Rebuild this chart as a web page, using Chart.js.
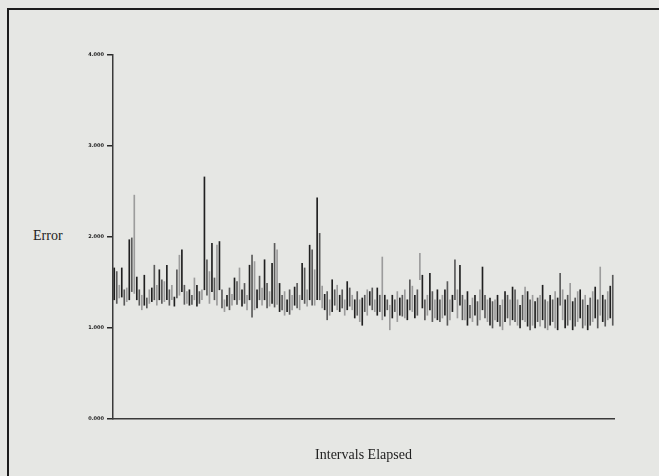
<!DOCTYPE html>
<html>
<head>
<meta charset="utf-8">
<script src="https://cdn.jsdelivr.net/npm/chart.js@4.4.1/dist/chart.umd.min.js"></script>
<style>
  body { margin: 0; background: #e6e7e4; overflow: hidden; }
  #frame { position: absolute; left: 7px; top: 8px; width: 700px; height: 520px;
           border-left: 2px solid #1c1c1c; border-top: 2px solid #1c1c1c; }
  #ylab { position: absolute; left: 33px; top: 228px; font: 14px "Liberation Serif", serif; color: #222; }
  canvas { position: absolute; left: 0; top: 0; }
</style>
</head>
<body>
<div id="frame"></div>
<div id="ylab">Error</div>
<canvas id="errChart" width="659" height="476"></canvas>
<script>
const highs = [
    1.66, 1.62, 1.47, 1.66, 1.42, 1.44, 1.97, 1.99, 2.46, 1.56,
    1.42, 1.36, 1.58, 1.33, 1.42, 1.44, 1.69, 1.47, 1.64, 1.53,
    1.51, 1.69, 1.42, 1.47, 1.34, 1.64, 1.80, 1.86, 1.47, 1.40,
    1.42, 1.36, 1.55, 1.47, 1.40, 1.42, 2.66, 1.75, 1.62, 1.93,
    1.55, 1.91, 1.95, 1.42, 1.31, 1.36, 1.44, 1.37, 1.55, 1.51,
    1.66, 1.42, 1.49, 1.36, 1.69, 1.80, 1.73, 1.42, 1.57, 1.44,
    1.75, 1.49, 1.40, 1.71, 1.93, 1.86, 1.49, 1.36, 1.40, 1.31,
    1.42, 1.36, 1.45, 1.49, 1.36, 1.71, 1.66, 1.42, 1.91, 1.86,
    1.64, 2.43, 2.04, 1.46, 1.37, 1.40, 1.31, 1.53, 1.42, 1.47,
    1.36, 1.42, 1.31, 1.51, 1.44, 1.36, 1.31, 1.40, 1.31, 1.33,
    1.36, 1.42, 1.40, 1.44, 1.31, 1.44, 1.36, 1.78, 1.36, 1.31,
    1.25, 1.36, 1.31, 1.40, 1.33, 1.36, 1.42, 1.31, 1.53, 1.46,
    1.36, 1.42, 1.82, 1.58, 1.31, 1.36, 1.60, 1.40, 1.31, 1.42,
    1.31, 1.36, 1.42, 1.51, 1.31, 1.36, 1.75, 1.42, 1.69, 1.36,
    1.31, 1.40, 1.25, 1.33, 1.36, 1.29, 1.42, 1.67, 1.36, 1.31,
    1.33, 1.29, 1.31, 1.36, 1.25, 1.31, 1.40, 1.36, 1.31, 1.45,
    1.42, 1.31, 1.25, 1.36, 1.45, 1.40, 1.31, 1.36, 1.29, 1.33,
    1.36, 1.47, 1.31, 1.29, 1.36, 1.31, 1.40, 1.33, 1.60, 1.42,
    1.31, 1.36, 1.49, 1.29, 1.33, 1.40, 1.42, 1.31, 1.36, 1.25,
    1.33, 1.40, 1.45, 1.31, 1.67, 1.36, 1.31, 1.40, 1.46, 1.58
];
const lows = [
    1.31, 1.27, 1.33, 1.34, 1.25, 1.29, 1.31, 1.40, 1.38, 1.31,
    1.25, 1.20, 1.25, 1.22, 1.27, 1.29, 1.31, 1.25, 1.31, 1.27,
    1.29, 1.31, 1.25, 1.31, 1.24, 1.33, 1.36, 1.40, 1.26, 1.27,
    1.25, 1.26, 1.31, 1.24, 1.27, 1.31, 1.42, 1.36, 1.27, 1.40,
    1.31, 1.25, 1.42, 1.22, 1.18, 1.24, 1.20, 1.25, 1.31, 1.26,
    1.31, 1.24, 1.27, 1.20, 1.31, 1.12, 1.20, 1.22, 1.31, 1.25,
    1.31, 1.22, 1.24, 1.27, 1.23, 1.26, 1.18, 1.20, 1.14, 1.18,
    1.15, 1.20, 1.25, 1.22, 1.20, 1.31, 1.27, 1.24, 1.31, 1.25,
    1.25, 1.31, 1.31, 1.22, 1.20, 1.09, 1.14, 1.18, 1.25, 1.20,
    1.18, 1.22, 1.14, 1.20, 1.24, 1.20, 1.11, 1.14, 1.07, 1.03,
    1.18, 1.14, 1.25, 1.20, 1.18, 1.14, 1.18, 1.09, 1.13, 1.20,
    0.98, 1.11, 1.18, 1.07, 1.14, 1.13, 1.11, 1.09, 1.20, 1.18,
    1.11, 1.14, 1.53, 1.22, 1.09, 1.14, 1.20, 1.07, 1.11, 1.09,
    1.07, 1.11, 1.14, 1.03, 1.09, 1.18, 1.31, 1.11, 1.25, 1.09,
    1.09, 1.03, 1.11, 1.07, 1.14, 1.03, 1.09, 1.20, 1.11, 1.07,
    1.03, 1.00, 1.09, 1.07, 1.02, 0.98, 1.07, 1.11, 1.03, 1.09,
    1.07, 1.03, 1.00, 1.09, 1.07, 1.02, 0.98, 1.03, 1.00, 1.07,
    1.02, 1.09, 1.00, 0.98, 1.03, 1.07, 1.00, 0.98, 1.25, 1.09,
    1.00, 1.03, 1.09, 0.98, 1.02, 1.07, 1.11, 1.00, 1.03, 0.98,
    1.03, 1.07, 1.11, 1.00, 1.14, 1.07, 1.02, 1.09, 1.11, 1.03
];
const intervals = highs.map((_, i) => i + 1);
const yTicks = [0, 1, 2, 3, 4];
const yTickLabels = ['0.000', '1.000', '2.000', '3.000', '4.000'];

// stroke shades of the scan: solid black, mid grey, light dotted grey
const shades = ['#202020', '#5a5a5a', '#9c9c9c'];

const ctx = document.getElementById('errChart').getContext('2d');
const errChart = new Chart(ctx, {
    type: 'bar',
    data: {
        labels: intervals,
        datasets: [{
            label: 'Error',
            data: lows.map((lo, i) => [lo, highs[i]]),
            backgroundColor: (c) => shades[c.dataIndex % 3],
            barThickness: 1
        }]
    },
    options: {
        responsive: false,
        animation: false,
        devicePixelRatio: 1,
        layout: { padding: { left: 0, top: 55, right: 45, bottom: 0 } },
        plugins: { legend: { display: false }, tooltip: { enabled: false } },
        scales: {
            x: {
                grid: { display: false },
                border: { color: '#3a3a3a', width: 1.5 },
                ticks: { display: false },
                title: {
                    display: true,
                    text: 'Intervals Elapsed',
                    color: '#222',
                    font: { family: 'Liberation Serif', size: 14 },
                    padding: { top: 0, bottom: 12 }
                },
                afterFit: (s) => { s.height = 57; }
            },
            y: {
                min: 0,
                max: 4,
                afterBuildTicks: (s) => { s.ticks = yTicks.map(v => ({ value: v })); },
                grid: { drawOnChartArea: false, tickLength: 6, color: '#2a2a2a', lineWidth: 1.5 },
                border: { color: '#3a3a3a', width: 1.5 },
                ticks: {
                    color: '#222',
                    padding: 3,
                    font: { family: 'DejaVu Sans', size: 5, weight: 'bold' },
                    callback: (v) => yTickLabels[yTicks.indexOf(v)]
                },
                afterFit: (s) => { s.width = 113; }
            }
        }
    }
});
</script>
</body>
</html>
